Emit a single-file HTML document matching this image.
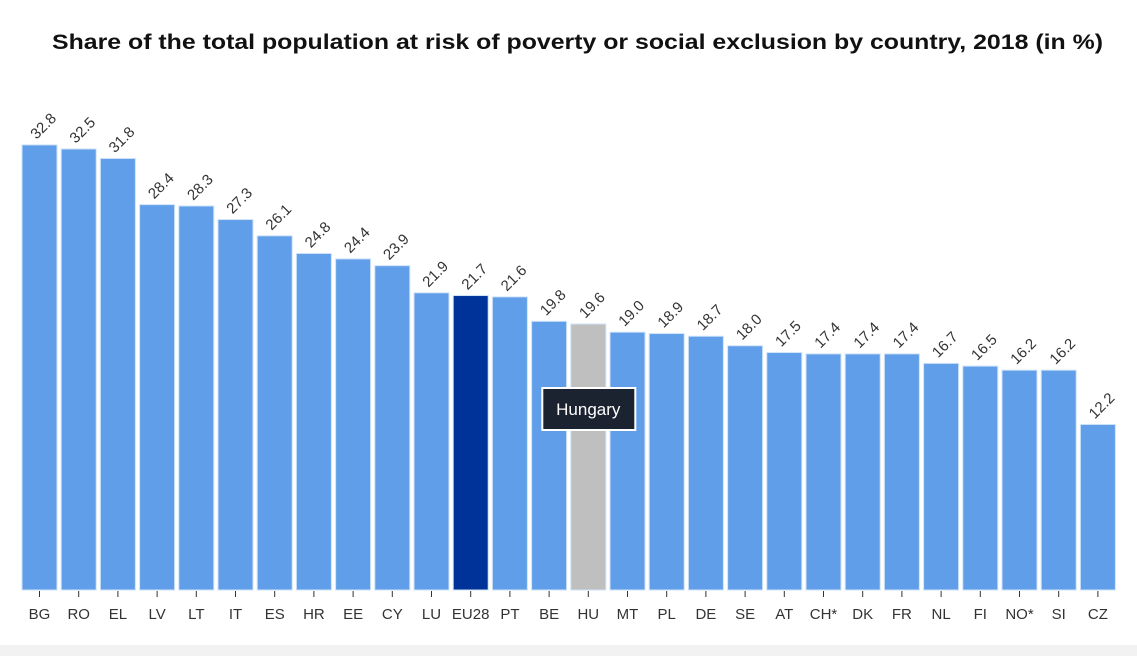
<!DOCTYPE html>
<html><head><meta charset="utf-8"><style>
body{margin:0;width:1137px;height:656px;background:#fff;overflow:hidden;font-family:"Liberation Sans",sans-serif}
</style></head><body>
<svg id="chart" width="1137" height="656" xmlns="http://www.w3.org/2000/svg">
<rect x="0" y="645" width="1137" height="11" fill="#f2f2f2"/>
<text x="52" y="49" textLength="1051" lengthAdjust="spacingAndGlyphs" font-size="21" font-weight="bold" fill="#111">Share of the total population at risk of poverty or social exclusion by country, 2018 (in %)</text>
<g id="bars"></g>
</svg>
<script>
const categories=["BG","RO","EL","LV","LT","IT","ES","HR","EE","CY","LU","EU28","PT","BE","HU","MT","PL","DE","SE","AT","CH*","DK","FR","NL","FI","NO*","SI","CZ"];
const values=[32.8,32.5,31.8,28.4,28.3,27.3,26.1,24.8,24.4,23.9,21.9,21.7,21.6,19.8,19.6,19.0,18.9,18.7,18.0,17.5,17.4,17.4,17.4,16.7,16.5,16.2,16.2,12.2];
const labels=["32.8","32.5","31.8","28.4","28.3","27.3","26.1","24.8","24.4","23.9","21.9","21.7","21.6","19.8","19.6","19.0","18.9","18.7","18.0","17.5","17.4","17.4","17.4","16.7","16.5","16.2","16.2","12.2"];
const NS="http://www.w3.org/2000/svg";
const g=document.getElementById('bars');
const base=590, k=13.57, x0=22, step=39.2, bw=35;
const xs=i=>x0+i*step, ys=v=>base-v*k;
function mk(t,a){const e=document.createElementNS(NS,t);for(const n in a)e.setAttribute(n,a[n]);return e;}
categories.forEach((c,i)=>{
  const v=values[i];
  const fill=c==="EU28"?"#003399":(c==="HU"?"#bfbfbf":"#609ee9");
  const r=mk('rect',{x:xs(i),y:ys(v),width:bw,height:base-ys(v),fill:fill,stroke:"#cfe3f8","stroke-width":1});
  
  
  g.appendChild(r);
  const cx=xs(i)+bw/2;
  const tk=mk('line',{x1:cx,x2:cx,y1:base+1,y2:base+7,stroke:"#333","stroke-width":1});
  
  
  g.appendChild(tk);
  const t=mk('text',{x:cx,y:base+29,"text-anchor":"middle","font-size":15,fill:"#333"});
  t.textContent=c;
  
  
  g.appendChild(t);
  const lx=cx-3, ly=ys(v)-5;
  const vl=mk('text',{x:lx,y:ly,"font-size":15,fill:"#333",transform:`rotate(-45 ${lx} ${ly})`});
  vl.textContent=labels[i];
  
  
  g.appendChild(vl);
});
const hi=categories.indexOf("HU");
const tx=xs(hi)+bw/2;
const tb=mk('rect',{x:tx-46,y:388,width:93,height:42,fill:"#1b2230",stroke:"#fff","stroke-width":2});


g.appendChild(tb);
const tt=mk('text',{x:tx,y:415,"text-anchor":"middle","font-size":17,fill:"#fff"});
tt.textContent="Hungary";


g.appendChild(tt);
</script>
</body></html>
